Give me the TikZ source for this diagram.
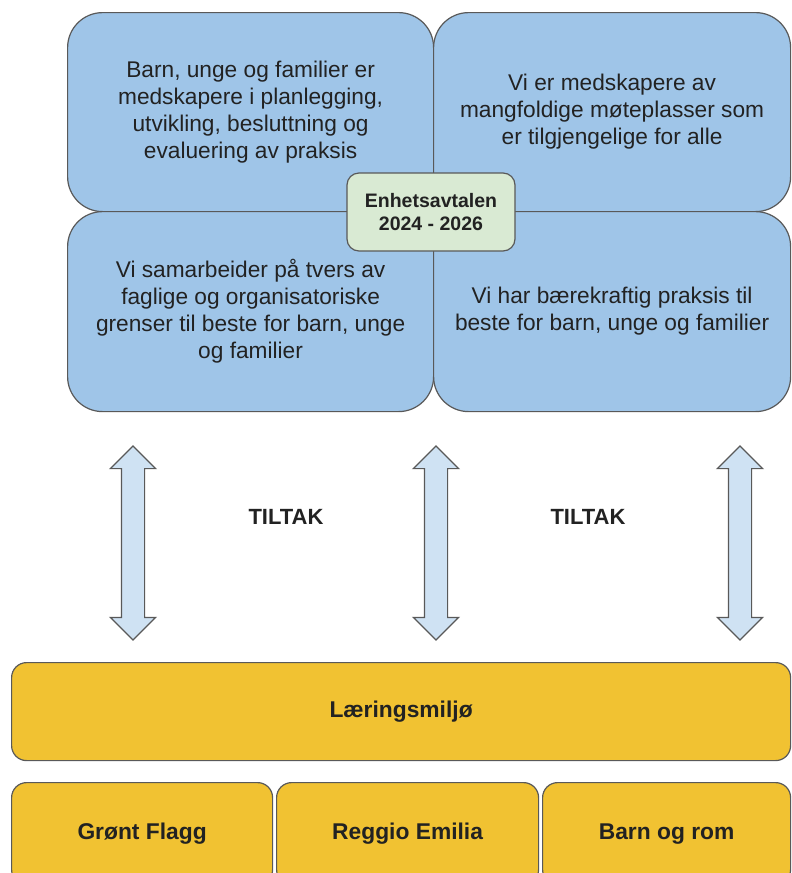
\documentclass[tikz,border=0pt]{standalone}
\usepackage{fontspec}
\setmainfont{Liberation Sans}
\usetikzlibrary{shapes.arrows,positioning}
\definecolor{blaa}{HTML}{9FC5E8}
\definecolor{lysblaa}{HTML}{CFE2F3}
\definecolor{lysgroenn}{HTML}{D9EAD3}
\definecolor{gul}{HTML}{F1C232}
\definecolor{kant}{HTML}{595959}
\definecolor{tekst}{HTML}{222222}
\tikzset{
     boks/.style={rectangle, draw=kant, line width=1.2pt, align=center, anchor=north west, inner sep=0pt, text=tekst},
     maal/.style={boks, fill=blaa, rounded corners=35pt, minimum height=199pt,
                  font=\fontsize{22.7}{27}\selectfont},
     avtale/.style={boks, fill=lysgroenn, rounded corners=12pt, anchor=center,
                  minimum width=168pt, minimum height=78pt, font=\bfseries\fontsize{19.5}{23}\selectfont},
     grunn/.style={boks, fill=gul, rounded corners=15pt, font=\bfseries\fontsize{22.8}{27}\selectfont},
     pil/.style={double arrow, rotate=90, draw=kant, line width=1.2pt, fill=lysblaa,
                  minimum height=194pt, inner xsep=0pt, inner ysep=11pt, double arrow head extend=11pt},
     tiltak/.style={font=\bfseries\fontsize{22}{26}\selectfont, text=tekst},
}

\begin{document}
\begin{tikzpicture}[x=1pt, y=-1pt]
		\useasboundingbox[fill=white] (0,0) rectangle (792,873);

		%% maalene
		\node[maal, minimum width=366pt] (maal1) at (67, 12)
		{Barn, unge og familier er\\ medskapere i planlegging,\\ utvikling, besluttning og\\ evaluering av praksis};
		\node[maal, minimum width=357pt] (maal2) at (433, 12)
		{Vi er medskapere av\\ mangfoldige møteplasser som\\ er tilgjengelige for alle};
		\node[maal, minimum width=366pt, minimum height=200pt] (maal3) at (67, 211)
		{Vi samarbeider på tvers av\\ faglige og organisatoriske\\ grenser til beste for barn, unge\\ og familier};
		\node[maal, minimum width=357pt, minimum height=200pt] (maal4) at (433, 211)
		{Vi har bærekraftig praksis til\\ beste for barn, unge og familier};

		\node[avtale] (avtale) at (431, 212) {Enhetsavtalen\\ 2024 - 2026};

		%% piler og tiltak
		\node[pil] (pil1) at (133, 543) {};
		\node[pil] (pil2) at (436, 543) {};
		\node[pil] (pil3) at (740, 543) {};
		\node[tiltak] (tiltak1) at (286, 517) {TILTAK};
		\node[tiltak] (tiltak2) at (588, 517) {TILTAK};

		%% grunnmuren
		\node[grunn, minimum width=779pt, minimum height=98pt] (miljo) at (11, 662) {Læringsmiljø};
		\node[grunn, minimum width=261pt, minimum height=102pt] (flagg) at (11, 782) {Grønt Flagg};
		\node[grunn, minimum width=262pt, minimum height=102pt] (reggio) at (276, 782) {Reggio Emilia};
		\node[grunn, minimum width=248pt, minimum height=102pt] (rom) at (542, 782) {Barn og rom};

\end{tikzpicture}
\end{document}
